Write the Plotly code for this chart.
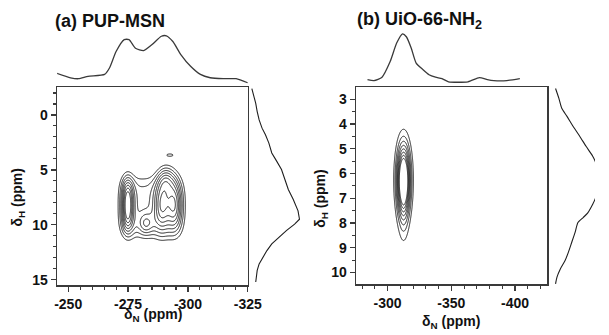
import numpy as np
import plotly.graph_objects as go

# ---------------- data ----------------
# (a) PUP-MSN : projections
TOP_A_PPM = [-244.9, -251.0, -254.3, -258.3, -265.2, -267.3, -270.0, -273.4, -275.4, -278.1, -281.5,
             -284.9, -288.9, -291.0, -293.7, -297.1, -301.1, -305.2, -309.3, -314.7, -320.1, -324.9]
TOP_A_INT = [22, 12, 10, 15, 19, 33, 67, 92, 92, 74, 69, 81, 99, 100, 88, 60, 36, 19, 12, 10, 10, 1.5]

RIGHT_A_PPM = [-2.4, -1.66, -1.06, -0.31, 0.45, 1.2, 1.8, 2.56, 3.46, 4.2, 4.97, 5.87, 6.78, 7.68,
               8.73, 9.49, 9.94, 10.53, 11.14, 11.74, 12.34, 13.1, 13.55, 14.15, 15.2]
RIGHT_A_INT = [2, 7, 10, 13, 17, 23, 30, 37, 43, 53, 63, 70, 77, 87, 97, 100, 90, 73, 57, 43, 33, 23, 17, 13, 10]

# (a) 2D peaks (delta_N, delta_H, width_N, width_H, amplitude, shape exponent)
PEAK_A_N = [-284.5, -274.8, -274.8, -289.0, -294.5, -291.0, -282.5, -292.5]
PEAK_A_H = [8.4, 7.2, 9.2, 8.2, 8.2, 5.8, 9.9, 3.65]
PEAK_A_WN = [11.5, 1.8, 1.8, 2.3, 2.3, 2.5, 2.2, 1.5]
PEAK_A_WH = [2.5, 1.2, 1.2, 1.6, 1.6, 0.9, 0.7, 0.12]
PEAK_A_AMP = [0.35, 0.55, 0.55, 0.55, 0.62, 0.35, 0.3, 0.25]
PEAK_A_P = [4, 2, 2, 2, 2, 2, 2, 2]

# (b) UiO-66-NH2 : projections
TOP_B_PPM = [-284.2, -289.3, -295.6, -302.0, -307.1, -311.7, -314.7, -318.5, -322.4, -327.5, -332.5,
             -337.6, -342.7, -347.8, -363.1, -372.0, -378.3, -383.4, -393.6, -403.8]
TOP_B_INT = [6, 4, 11, 43, 81, 100, 94, 71, 40, 27, 16, 11, 8, 1.5, 1.5, 10, 6, 4, 4, 8]

RIGHT_B_PPM = [2.56, 2.96, 3.36, 3.69, 4.10, 4.50, 4.90, 5.30, 5.50, 6.25, 7.04, 7.24, 7.58, 7.78,
               7.98, 8.38, 8.78, 9.18, 9.52, 9.86, 10.19, 10.46]
RIGHT_B_INT = [5, 12, 18, 29, 42, 56, 69, 83, 88, 100, 88, 83, 73, 63, 52, 46, 39, 32, 25, 15, 8, 5]

# (b) 2D peaks
PEAK_B_N = [-312.5, -312.5]
PEAK_B_H = [6.25, 7.6]
PEAK_B_WN = [3.6, 3.0]
PEAK_B_WH = [0.95, 1.0]
PEAK_B_AMP = [1.0, 0.12]
PEAK_B_P = [2, 2]

# tick labels
X_TICKS_A = [-250, -275, -300, -325]
Y_TICKS_A = [0, 5, 10, 15]
X_TICKS_B = [-300, -350, -400]
Y_TICKS_B = [3, 4, 5, 6, 7, 8, 9, 10]

TITLE_A = "(a) PUP-MSN"
TITLE_B = "(b) UiO-66-NH<sub>2</sub>"


# ---------------- build ----------------
def spectrum(xs, ys, pn, ph, wn, wh, amp, pw):
    X, Y = np.meshgrid(xs, ys)
    Z = np.zeros_like(X)
    for a, b, c, d, e, p in zip(pn, ph, wn, wh, amp, pw):
        Z += e * np.exp(-0.5 * (np.abs((X - a) / c) ** p + np.abs((Y - b) / d) ** p))
    return Z


W, H = 609, 335
def dxp(a, b): return [a / W, b / W]
def dyp(top, bottom): return [1 - bottom / H, 1 - top / H]

FONT = "Liberation Sans, Arial, sans-serif"
LINE = "#3a3a3a"
INK = "#1e1e1e"

xa = np.arange(-326, -244, 0.25)
ya = np.arange(-3, 16, 0.04)
za = spectrum(xa, ya, PEAK_A_N, PEAK_A_H, PEAK_A_WN, PEAK_A_WH, PEAK_A_AMP, PEAK_A_P)

xb = np.arange(-426, -275, 0.25)
yb = np.arange(2.4, 10.6, 0.02)
zb = spectrum(xb, yb, PEAK_B_N, PEAK_B_H, PEAK_B_WN, PEAK_B_WH, PEAK_B_AMP, PEAK_B_P)

fig = go.Figure()
one = [[0, INK], [1, INK]]

fig.add_trace(go.Contour(x=xa, y=ya, z=za, xaxis="x", yaxis="y", showscale=False,
                         colorscale=one, contours=dict(coloring="lines", start=0.2, end=0.9, size=0.1),
                         line=dict(width=1), hoverinfo="skip"))
fig.add_trace(go.Scatter(x=TOP_A_PPM, y=TOP_A_INT, xaxis="x2", yaxis="y2", mode="lines",
                         line=dict(color=LINE, width=1.3, shape="spline", smoothing=0.6)))
fig.add_trace(go.Scatter(x=RIGHT_A_INT, y=RIGHT_A_PPM, xaxis="x3", yaxis="y3", mode="lines",
                         line=dict(color=INK, width=1.1)))

fig.add_trace(go.Contour(x=xb, y=yb, z=zb, xaxis="x4", yaxis="y4", showscale=False,
                         colorscale=one, contours=dict(coloring="lines", start=0.1, end=0.68, size=0.082),
                         line=dict(width=1), hoverinfo="skip"))
fig.add_trace(go.Scatter(x=TOP_B_PPM, y=TOP_B_INT, xaxis="x5", yaxis="y5", mode="lines",
                         line=dict(color=LINE, width=1.3, shape="spline", smoothing=0.6)))
fig.add_trace(go.Scatter(x=RIGHT_B_INT, y=RIGHT_B_PPM, xaxis="x6", yaxis="y6", mode="lines",
                         line=dict(color=INK, width=1.1, shape="spline", smoothing=0.6)))

tickfont = dict(family=FONT, size=14, color="#111", weight="bold")


def main_axis(domain, rng, vals, minor_dtick, anchor):
    return dict(domain=domain, range=rng, anchor=anchor, tickmode="array", tickvals=vals,
                ticktext=[str(v) for v in vals], ticks="outside", ticklen=5, tickwidth=1.3,
                tickcolor=LINE, showline=True, linecolor=LINE, linewidth=1.5, mirror=True,
                showgrid=False, zeroline=False, tickfont=tickfont,
                minor=dict(tickmode="linear", tick0=0, dtick=minor_dtick, ticks="outside",
                           ticklen=3, tickwidth=1.1, tickcolor=LINE, showgrid=False))


def hidden(domain, rng, anchor):
    return dict(domain=domain, range=rng, anchor=anchor, visible=False, showgrid=False, zeroline=False)


MAIN_A_X = dxp(55.7, 252)
MAIN_A_Y = dyp(88, 287)
MAIN_B_X = dxp(363.3, 560)
MAIN_B_Y = dyp(88, 286)
RANGE_AX = [-245.4, -325.05]
RANGE_AY = [15.5, -2.5]
RANGE_BX = [-275.3, -425.4]
RANGE_BY = [10.48, 2.52]

fig.update_layout(
    width=W, height=H, margin=dict(l=0, r=0, t=0, b=0),
    paper_bgcolor="white", plot_bgcolor="white", showlegend=False,
    xaxis=main_axis(MAIN_A_X, RANGE_AX, X_TICKS_A, 5, "y"),
    yaxis=main_axis(MAIN_A_Y, RANGE_AY, Y_TICKS_A, 1, "x"),
    xaxis2=hidden(MAIN_A_X, RANGE_AX, "y2"),
    yaxis2=hidden(dyp(30, 86), [-4.2, 112.5], "x2"),
    xaxis3=hidden(dxp(254, 310), [-2, 110], "y3"),
    yaxis3=hidden(MAIN_A_Y, RANGE_AY, "x3"),
    xaxis4=main_axis(MAIN_B_X, RANGE_BX, X_TICKS_B, 10, "y4"),
    yaxis4=main_axis(MAIN_B_Y, RANGE_BY, Y_TICKS_B, 0.5, "x4"),
    xaxis5=hidden(MAIN_B_X, RANGE_BX, "y5"),
    yaxis5=hidden(dyp(30, 86), [-6.1, 108.2], "x5"),
    xaxis6=hidden(dxp(565, 609), [-2, 87.8], "y6"),
    yaxis6=hidden(MAIN_B_Y, RANGE_BY, "x6"),
)

ann_font = dict(family=FONT, size=14, color="#111", weight="bold")
title_font = dict(family=FONT, size=18, color="#111", weight="bold")
anns = [
    dict(text=TITLE_A, x=51 / W, y=1 - 21 / H, xanchor="left", yanchor="middle", font=title_font),
    dict(text=TITLE_B, x=362 / W, y=1 - 21 / H, xanchor="left", yanchor="middle", font=title_font),
    dict(text="δ<sub>N</sub> (ppm)", x=154 / W, y=1 - 317 / H, xanchor="center", yanchor="middle", font=ann_font),
    dict(text="δ<sub>N</sub> (ppm)", x=461 / W, y=1 - 324 / H, xanchor="center", yanchor="middle", font=ann_font),
    dict(text="δ<sub>H</sub> (ppm)", x=15.5 / W, y=1 - 198.5 / H, xanchor="center", yanchor="middle",
         textangle=-90, font=ann_font),
    dict(text="δ<sub>H</sub> (ppm)", x=327.5 / W, y=1 - 199.5 / H, xanchor="center", yanchor="middle",
         textangle=-90, font=ann_font),
]
for a in anns:
    a.update(xref="paper", yref="paper", showarrow=False)
fig.update_layout(annotations=anns)

fig.write_html("out.html", config={"displayModeBar": False, "staticPlot": True},
               post_script="document.body.style.margin='0px';document.body.style.overflow='hidden';")
